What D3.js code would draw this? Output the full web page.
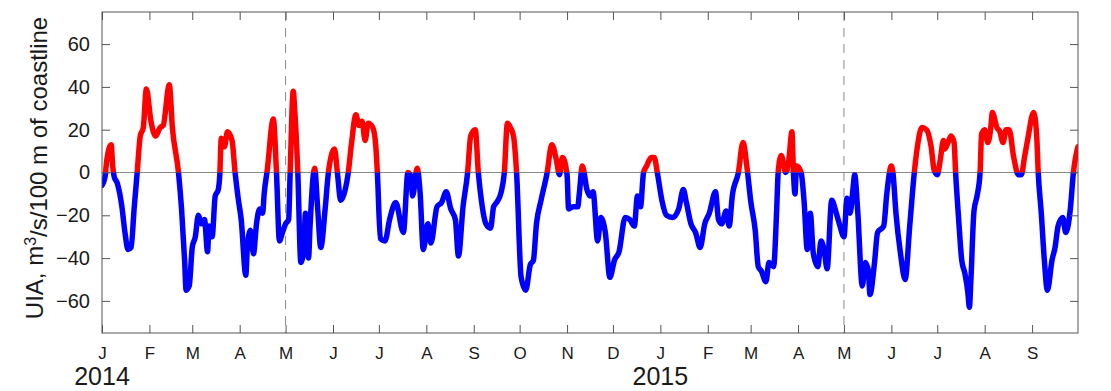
<!DOCTYPE html>
<html>
<head>
<meta charset="utf-8">
<script src="https://cdn.jsdelivr.net/npm/d3@7"></script>
<style>
  body { margin: 0; background: #fff; }
  text { font-family: Arial, "Liberation Sans", sans-serif; fill: #1a1a1a; }
</style>
</head>
<body>
<div id="chart"></div>
<script>
// days since 2014-01-01 and the UIA value read at that day
const dayOffsets = [
  0, 2, 3, 6, 7, 8, 10, 13, 15, 17, 19, 21, 23, 25, 27, 29, 32, 35, 38, 40,
  44, 46, 50, 52, 54, 55, 57, 59, 61, 63, 65, 67, 69, 70, 72, 74, 76, 77, 78, 80,
  82, 85, 87, 89, 91, 94, 95, 97, 99, 101, 103, 105, 106, 108, 112, 114, 116, 118, 120, 122,
  123, 125, 126, 128, 130, 132, 133, 135, 136, 139, 141, 143, 146, 148, 152, 154, 156, 159, 161, 163,
  166, 168, 170, 172, 174, 177, 179, 180, 182, 185, 188, 192, 197, 200, 202, 203, 206, 208, 210, 213,
  215, 219, 222, 225, 228, 231, 233, 236, 239, 241, 244, 246, 248, 251, 254, 256, 258, 261, 263, 265,
  267, 269, 271, 274, 277, 280, 282, 284, 287, 291, 294, 297, 299, 301, 304, 305, 308, 311, 312, 314,
  317, 319, 321, 324, 326, 329, 332, 335, 338, 342, 345, 348, 350, 352, 354, 356, 359, 361, 363, 366,
  369, 373, 377, 380, 382, 385, 388, 391, 394, 397, 401, 403, 405, 408, 410, 412, 416, 419, 422, 424,
  427, 429, 431, 434, 436, 439, 441, 442, 444, 447, 449, 451, 452, 453, 454, 457, 459, 461, 463, 465,
  468, 470, 472, 474, 477, 480, 482, 485, 487, 489, 491, 492, 494, 497, 499, 501, 502, 505, 507, 511,
  513, 516, 517, 519, 522, 525, 528, 531, 533, 536, 539, 542, 544, 546, 548, 550, 551, 553, 555, 557,
  558, 560, 562, 564, 566, 567, 568, 570, 572, 574, 575, 577, 579, 581, 582, 585, 587, 589, 591, 593,
  596, 599, 601, 603, 605, 609, 611, 612, 614, 616, 618, 621, 623, 625, 628, 630, 633, 635, 638
];
const uiaValues = [
  -6, -2, 5, 13, 3, -2, -5, -16, -28, -36, -35, -17, 0, 17, 21, 39, 24, 17, 21, 22,
  41, 21, 0, -17, -41, -55, -53, -35, -30, -20, -24, -22, -37, -25, -30, -11, -8, -1, 16, 12,
  19, 15, 0, -12, -22, -48, -35, -27, -38, -24, -17, -19, -10, 1, 25, 1, -32, -28, -24, -22,
  0, 38, 29, 0, -42, -35, -19, -40, -25, 2, -17, -35, -16, 0, 11, -1, -13, -8, 0, 13,
  27, 22, 24, 15, 23, 21, 12, 0, -31, -32, -22, -14, -28, 0, -2, -11, 2, -10, -36, -24,
  -33, -16, -14, -9, -17, -22, -39, -16, 0, 17, 20, 0, -13, -24, -26, -16, -14, -9, 0, 23,
  21, 17, 0, -49, -55, -43, -41, -24, -13, 0, 13, 6, -1, 7, -1, -17, -16, -16, -10, 3,
  -8, -11, -9, -32, -21, -28, -49, -41, -37, -21, -22, -25, -11, -16, 0, 3, 7, 7, 0, -13,
  -20, -21, -17, -8, -14, -24, -28, -35, -24, -19, -9, -22, -24, -18, -25, -11, 0, 14, 0, -13,
  -27, -44, -46, -51, -42, -44, -18, 0, 8, 0, 6, 19, 0, -10, 3, 0, -14, -36, -19, -38,
  -44, -32, -36, -45, -13, -19, -24, -30, -12, -19, -7, -1, -18, -53, -42, -46, -57, -42, -28, -25,
  -10, 3, 0, -19, -38, -50, -25, 0, 12, 21, 20, 12, 1, -1, 6, 15, 11, 14, 17, 14,
  0, -22, -41, -47, -56, -63, -50, -18, -11, 0, 18, 20, 14, 21, 28, 21, 19, 14, 20, 20,
  7, -1, -1, 7, 15, 28, 17, 0, -19, -41, -55, -41, -35, -25, -21, -28, -17, 0, 12
];
const yTicks = [-60, -40, -20, 0, 20, 40, 60];
const yearLabels = ["2014", "2015"];
const yearDates = ["2014-01-01", "2015-01-01"];
const dashedDates = ["2014-05-01", "2015-05-01"];

const width = 1111, height = 391;
const margin = { top: 12, right: 33, bottom: 58, left: 102 };
const start = new Date(Date.UTC(2014, 0, 1));
const end = new Date(Date.UTC(2015, 9, 1));

const svg = d3.select('#chart').append('svg')
  .attr('width', width)
  .attr('height', height);

const x = d3.scaleUtc().domain([start, end]).range([margin.left, width - margin.right]);
const y = d3.scaleLinear().domain([-75, 75]).range([height - margin.bottom, margin.top]);

const data = dayOffsets.map((d, i) => ({ date: d3.utcDay.offset(start, d), value: uiaValues[i] }));

// clip halves for red (positive) / blue (negative)
const defs = svg.append('defs');
defs.append('clipPath').attr('id', 'clipPos').append('rect')
  .attr('x', margin.left).attr('y', margin.top)
  .attr('width', x.range()[1] - margin.left).attr('height', y(0) - margin.top);
defs.append('clipPath').attr('id', 'clipNeg').append('rect')
  .attr('x', margin.left).attr('y', y(0))
  .attr('width', x.range()[1] - margin.left).attr('height', y.range()[0] - y(0));

// zero line and dashed year markers
svg.append('line')
  .attr('x1', x.range()[0]).attr('x2', x.range()[1])
  .attr('y1', y(0)).attr('y2', y(0))
  .attr('stroke', '#8a8a8a').attr('stroke-width', 1);

svg.selectAll('.dash')
  .data(dashedDates)
  .enter()
  .append('line')
  .attr('x1', d => x(new Date(d + 'T00:00:00Z')))
  .attr('x2', d => x(new Date(d + 'T00:00:00Z')))
  .attr('y1', y.range()[1]).attr('y2', y.range()[0])
  .attr('stroke', '#8a8a8a').attr('stroke-width', 1)
  .attr('stroke-dasharray', '9,7');

const line = d3.line()
  .curve(d3.curveMonotoneX)
  .x(d => x(d.date))
  .y(d => y(d.value));

[['clipPos', '#ff0000'], ['clipNeg', '#0000ff']].forEach(([clip, col]) => {
  svg.append('path')
    .datum(data)
    .attr('clip-path', `url(#${clip})`)
    .attr('fill', 'none')
    .attr('stroke', col)
    .attr('stroke-width', 5.5)
    .attr('stroke-linejoin', 'round')
    .attr('stroke-linecap', 'round')
    .attr('d', line);
});

// axes
const months = d3.utcMonth.range(start, end);
const monthFmt = d3.utcFormat('%b');

const gx = svg.append('g')
  .attr('transform', `translate(0,${y.range()[0]})`)
  .call(d3.axisBottom(x).tickValues(months).tickFormat(d => monthFmt(d)[0])
    .tickSizeInner(-8).tickSizeOuter(0).tickPadding(14));
gx.selectAll('text').style('font-size', '17px');

svg.append('g')
  .attr('transform', `translate(0,${y.range()[1]})`)
  .call(d3.axisTop(x).tickValues(months).tickFormat('').tickSizeInner(-8).tickSizeOuter(0));

const gy = svg.append('g')
  .attr('transform', `translate(${x.range()[0]},0)`)
  .call(d3.axisLeft(y).tickValues(yTicks).tickFormat(d3.format('d'))
    .tickSizeInner(-8).tickSizeOuter(0).tickPadding(12));
gy.selectAll('text').style('font-size', '20px');

svg.append('g')
  .attr('transform', `translate(${x.range()[1]},0)`)
  .call(d3.axisRight(y).tickValues(yTicks).tickFormat('').tickSizeInner(-8).tickSizeOuter(0));

svg.selectAll('.domain').remove();
svg.selectAll('.tick line').attr('stroke', '#555');

svg.append('rect')
  .attr('x', x.range()[0]).attr('y', y.range()[1])
  .attr('width', x.range()[1] - x.range()[0])
  .attr('height', y.range()[0] - y.range()[1])
  .attr('fill', 'none').attr('stroke', '#555').attr('stroke-width', 1);

// year labels
svg.selectAll('.year')
  .data(yearLabels)
  .enter()
  .append('text')
  .attr('x', (d, i) => x(new Date(yearDates[i] + 'T00:00:00Z')))
  .attr('y', 385)
  .attr('text-anchor', 'middle')
  .style('font-size', '25px')
  .text(d => d);

// y label
const ylab = svg.append('text')
  .attr('transform', 'translate(43,168) rotate(-90)')
  .attr('text-anchor', 'middle')
  .style('font-size', '24px');
ylab.append('tspan').text('UIA, m');
ylab.append('tspan').attr('dy', '-0.45em').style('font-size', '16px').text('3');
ylab.append('tspan').attr('dy', '0.45em').text('/s/100 m of coastline');
</script>
</body>
</html>
